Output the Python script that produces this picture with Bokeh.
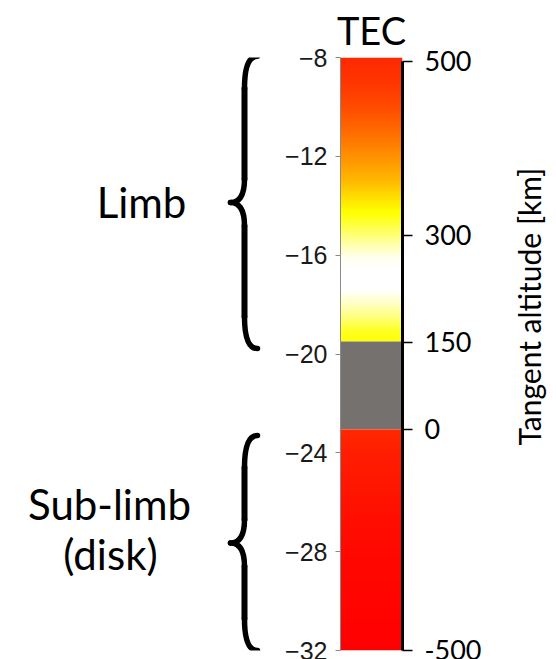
import numpy as np
from bokeh.plotting import figure
from bokeh.models import Range1d, LinearAxis, FixedTicker, ColumnDataSource, Title
from bokeh.layouts import row
from bokeh.core.properties import value
from bokeh.embed import file_html
from bokeh.resources import INLINE

# ---------------- data ----------------
scale_ticks = [-8, -12, -16, -20, -24, -28, -32]
scale_tick_labels = ["\u22128", "\u221212", "\u221216", "\u221220", "\u221224", "\u221228", "\u221232"]

altitude_labels = ["500", "300", "150", "0", "-500"]
altitude_pos = [-8.16, -15.2, -19.53, -23.05, -32.0]

# limb part of the bar (colour stops, top -> bottom)
limb_pos = [-8.0, -9.0, -10.0, -11.0, -12.0, -13.0, -13.8, -14.3, -14.8, -15.5,
            -16.1, -16.6, -17.4, -18.0, -18.6, -19.1, -19.49]
limb_col = ["#ff2800", "#ff3500", "#ff4a00", "#ff6a00", "#ff9000", "#ffb800", "#ffe600",
            "#ffff00", "#ffff40", "#ffffa0", "#fffff0", "#ffffff", "#ffffff", "#ffffc0",
            "#ffff70", "#ffff20", "#ffff00"]

# no-data band between limb and disk
gap_top = -19.49
gap_bottom = -23.05
gap_color = "#75716f"

# sub-limb (disk) part of the bar
disk_pos = [-23.05, -24.0, -26.0, -28.0, -32.0]
disk_col = ["#ff2800", "#ff1e00", "#ff1200", "#ff0800", "#ff0000"]

region_labels = ["Limb", "Sub-limb", "(disk)"]
brace_spans = [(-7.95, -19.78), (-23.3, -32.0)]

# ---------------- helpers ----------------
def hex2rgb(h):
    h = h.lstrip("#")
    return [int(h[i:i + 2], 16) for i in (0, 2, 4)]

def gradient_image(pos, cols, rows=600):
    pos = np.asarray(pos, float)
    rgb = np.array([hex2rgb(c) for c in cols], float)
    top, bottom = pos[0], pos[-1]
    centers = bottom + (np.arange(rows) + 0.5) * (top - bottom) / rows   # row 0 = bottom
    img = np.empty((rows, 1), dtype=np.uint32)
    view = img.view(dtype=np.uint8).reshape((rows, 1, 4))
    for k in range(3):
        view[:, 0, k] = np.round(np.interp(centers, pos[::-1], rgb[::-1, k])).astype(np.uint8)
    view[:, 0, 3] = 255
    return img, bottom, top - bottom

# ---------------- geometry ----------------
H = 659
frame_top_px, frame_bottom_px = 57, 650
left_w = 270

common = dict(toolbar_location=None, output_backend="svg",
              min_border_top=frame_top_px, min_border_bottom=H - frame_bottom_px)

# ---------------- left panel: labels + braces ----------------
pa = figure(width=left_w, height=H, x_range=Range1d(0, left_w), y_range=Range1d(-32, -8),
            x_axis_location=None, y_axis_location=None,
            min_border_left=0, min_border_right=0, **common)
pa.grid.visible = False
pa.outline_line_color = None

lab_src = ColumnDataSource(dict(x=[141, 109, 110], y=[-13.83, -26.09, -28.11], text=region_labels))
pa.text(x="x", y="y", text="text", source=lab_src, text_font=value("Lato"),
        text_font_size="42px", text_align="center", text_baseline="alphabetic", text_color="black")

x_end, x_stem, x_tip = 257, 244, 230
r_end, r_tip = 1.3, 0.95
for yt, yb in brace_spans:
    ym = (yt + yb) / 2
    q = dict(x0=[x_end, x_stem, x_stem, x_stem],
             y0=[yt, ym + r_tip, ym - r_tip, yb + r_end],
             x1=[x_stem, x_tip, x_tip, x_end],
             y1=[yt - r_end, ym, ym, yb],
             cx=[x_stem, x_stem, x_stem, x_stem],
             cy=[yt, ym, ym, yb])
    pa.quadratic(x0="x0", y0="y0", x1="x1", y1="y1", cx="cx", cy="cy",
                 source=ColumnDataSource(q), line_color="black", line_width=5.5, line_cap="round")
    pa.segment(x0=[x_stem, x_stem], y0=[yt - r_end, ym - r_tip],
               x1=[x_stem, x_stem], y1=[ym + r_tip, yb + r_end],
               line_color="black", line_width=6, line_cap="round")

# ---------------- middle panel: colour bar ----------------
pb = figure(frame_width=62, frame_height=frame_bottom_px - frame_top_px,
            x_range=Range1d(0, 1), y_range=Range1d(-32, -8),
            x_axis_location=None, y_axis_location="left",
            min_border_left=70, min_border_right=90, **common)
pb.grid.visible = False
pb.outline_line_color = None

img, y0, dh = gradient_image(limb_pos, limb_col)
pb.image_rgba(image=[img], x=0, y=y0, dw=1, dh=dh)
pb.quad(left=[0], right=[1], top=[gap_top], bottom=[gap_bottom], fill_color=gap_color, line_color=None)
img, y0, dh = gradient_image(disk_pos, disk_col)
pb.image_rgba(image=[img], x=0, y=y0, dw=1, dh=dh)

pb.title.text = "TEC"
pb.title.align = "center"
pb.title.text_font = "Lato"
pb.title.text_font_size = "38px"
pb.title.text_font_style = "normal"
pb.title.text_color = "black"
pb.title.standoff = 9

ya = pb.yaxis[0]
ya.ticker = FixedTicker(ticks=scale_ticks)
ya.major_label_overrides = {v: s for v, s in zip(scale_ticks, scale_tick_labels)}
ya.minor_tick_line_color = None
ya.major_tick_in = 0
ya.major_tick_out = 5
ya.major_tick_line_color = "#8a8a8a"
ya.axis_line_color = "#8a8a8a"
ya.major_label_text_font = "Liberation Sans"
ya.major_label_text_font_size = "25px"
ya.major_label_text_color = "#1a1a1a"
ya.major_label_standoff = 8

ra = LinearAxis(ticker=FixedTicker(ticks=altitude_pos),
                major_label_overrides={v: s for v, s in zip(altitude_pos, altitude_labels)},
                bounds=(-32, altitude_pos[0]))
ra.minor_tick_line_color = None
ra.major_tick_in = 0
ra.major_tick_out = 10
ra.major_tick_line_color = "black"
ra.major_tick_line_width = 1.5
ra.axis_line_color = "black"
ra.axis_line_width = 3
ra.major_label_text_font = "Lato"
ra.major_label_text_font_size = "27px"
ra.major_label_text_color = "black"
ra.major_label_standoff = 12
pb.add_layout(ra, "right")

# ---------------- right strip: vertical axis title (bottom-to-top) ----------------
pc_w = 556 - left_w - (70 + 62 + 90)
pc = figure(width=pc_w, frame_height=frame_bottom_px - frame_top_px,
            x_range=Range1d(0, 1), y_range=Range1d(-32, -8),
            x_axis_location=None, y_axis_location=None,
            min_border_left=pc_w - 8, min_border_right=0, **common)
pc.grid.visible = False
pc.outline_line_color = None
pc.add_layout(Title(text="Tangent altitude [km]", align="left", offset=205, standoff=4,
                    text_font="Lato", text_font_size="30px", text_font_style="normal",
                    text_color="black"), "left")

layout = row(pa, pb, pc)
open("out.html", "w").write(file_html(layout, INLINE))
